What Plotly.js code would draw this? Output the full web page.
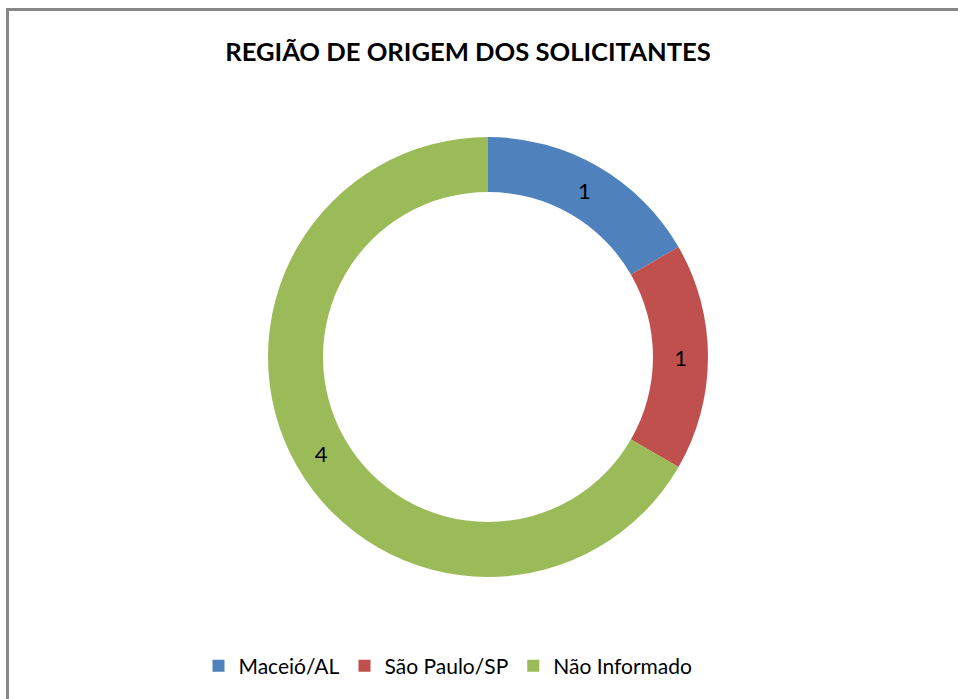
<!DOCTYPE html>
<html>
<head>
<meta charset="utf-8">
<script src="https://cdn.plot.ly/plotly-3.0.1.min.js"></script>
<style>
html, body { margin: 0; padding: 0; background: #ffffff; overflow: hidden; }
#frame { position: absolute; left: 6px; top: 8px; width: 1100px; height: 900px; border-left: 3px solid #878787; border-top: 3px solid #878787; box-sizing: border-box; }
#chart { position: absolute; left: 0; top: 0; width: 958px; height: 699px; }
</style>
</head>
<body>
<div id="frame"></div>
<div id="chart"></div>
<script>
const categories = ["Maceió/AL", "São Paulo/SP", "Não Informado"];
const values = [1, 1, 4];
const colors = ["#4F81BD", "#C0504D", "#9BBB59"];
const titleText = "REGIÃO DE ORIGEM DOS SOLICITANTES";

const W = 958, H = 699;
const cx = 488, cy = 357, R = 220;

const trace = {
  type: "pie",
  labels: categories,
  values: values,
  hole: 0.75,
  sort: false,
  direction: "clockwise",
  rotation: 0,
  marker: { colors: colors, line: { width: 0 } },
  textinfo: "value",
  textposition: "inside",
  insidetextorientation: "horizontal",
  textfont: { family: "Lato, 'DejaVu Sans', sans-serif", size: 22, color: "#000000" },
  domain: { x: [(cx - R) / W, (cx + R) / W], y: [(H - cy - R) / H, (H - cy + R) / H] },
  hoverinfo: "label+value"
};

const layout = {
  width: W, height: H,
  margin: { l: 0, r: 0, t: 0, b: 0 },
  paper_bgcolor: "rgba(0,0,0,0)",
  plot_bgcolor: "rgba(0,0,0,0)",
  showlegend: true,
  title: {
    text: "<b>" + titleText + "</b>",
    font: { family: "Lato, 'DejaVu Sans', sans-serif", size: 25.6, color: "#000000" },
    x: 468 / W, xanchor: "center", xref: "paper",
    y: 1 - 52 / H, yanchor: "middle", yref: "paper"
  },
  legend: {
    orientation: "h",
    x: 448 / W, xanchor: "center",
    y: 1 - 666 / H, yanchor: "middle",
    font: { family: "Lato, 'DejaVu Sans', sans-serif", size: 21, color: "#000000" },
    itemwidth: 30,
    traceorder: "normal"
  }
};

Plotly.newPlot("chart", [trace], layout, { displayModeBar: false, staticPlot: true });
</script>
</body>
</html>
